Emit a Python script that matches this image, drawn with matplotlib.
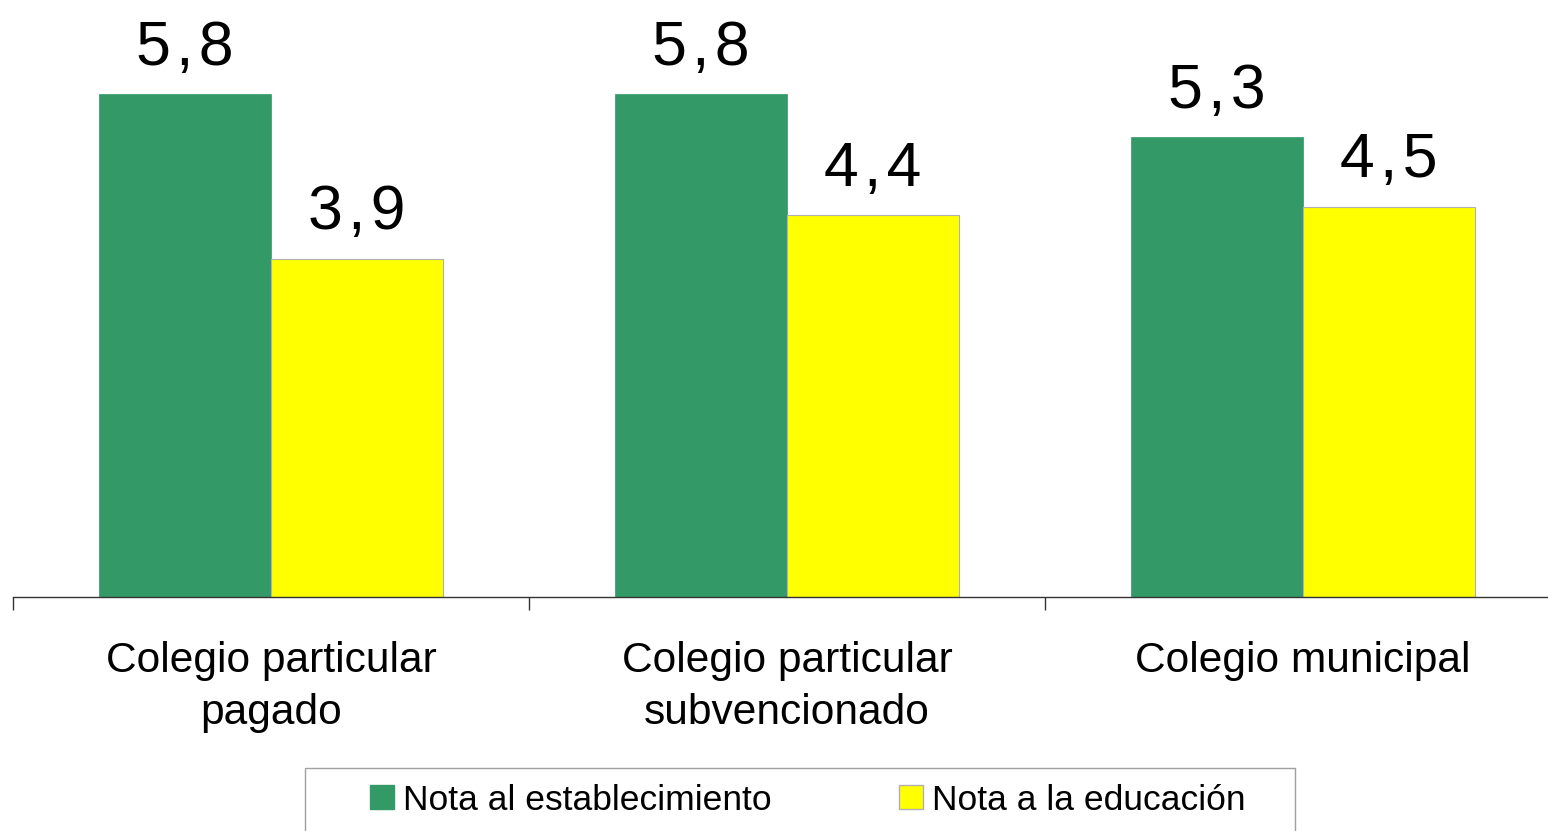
import matplotlib
matplotlib.use("Agg")
import matplotlib.pyplot as plt
import matplotlib.patches as mpatches
import numpy as np


CATEGORIES = ["Colegio particular\npagado", "Colegio particular\nsubvencionado", "Colegio municipal"]
NOTA_ESTABLECIMIENTO = [5.8, 5.8, 5.3]
NOTA_EDUCACION = [3.9, 4.4, 4.5]
SERIES_LABELS = ["Nota al establecimiento", "Nota a la educación"]
GREEN = "#339966"
YELLOW = "#FFFF00"

W, H = 1548, 831
plt.rcParams["font.family"] = ["Liberation Sans", "DejaVu Sans"]

fig = plt.figure(figsize=(W / 100, H / 100), dpi=100)
ax = fig.add_axes([13 / W, 234 / H, 1.0, 597 / H])

x = np.arange(len(CATEGORIES))
bw = 1 / 3
bars_a = ax.bar(x - bw / 2, NOTA_ESTABLECIMIENTO, width=bw, color=GREEN, edgecolor=GREEN, linewidth=0.5)
bars_b = ax.bar(x + bw / 2, NOTA_EDUCACION, width=bw, color=YELLOW, edgecolor="#b0b0b0", linewidth=0.8)

# spaced decimal comma like the original labels
for bars in (bars_a, bars_b):
    for b in bars:
        val = b.get_height()
        ax.annotate(f"{val:.1f}".replace(".", "\u200a,\u200a"),
                    (b.get_x() + b.get_width() / 2, val),
                    xytext=(0, 21), textcoords="offset points",
                    ha="center", va="baseline", fontsize=45)

ax.set_xlim(-0.5, 2.5)
ax.set_ylim(0, 6.88)
ax.set_yticks([])
for side in ("left", "top", "right"):
    ax.spines[side].set_visible(False)
ax.spines["bottom"].set_color("#333333")
ax.spines["bottom"].set_linewidth(1.0)

ax.set_xticks([-0.5, 0.5, 1.5, 2.5])
ax.set_xticklabels([])
ax.tick_params(axis="x", which="major", direction="out", length=9.4, width=1.0, color="#333333")
ax.set_xticks(x, minor=True)
ax.set_xticklabels(CATEGORIES, minor=True, fontsize=30.6, linespacing=1.37)
ax.tick_params(axis="x", which="minor", length=0, pad=32)

handles = [
    mpatches.Patch(facecolor=GREEN, edgecolor=GREEN, label=SERIES_LABELS[0]),
    mpatches.Patch(facecolor=YELLOW, edgecolor="#b0b0b0", label=SERIES_LABELS[1]),
]
fig.legend(handles=handles, loc="center left", bbox_to_anchor=(370 / W, 1 - 800 / H),
           ncol=2, frameon=False, fontsize=25.5, borderpad=0, borderaxespad=0,
           handlelength=0.68, handleheight=0.68, handletextpad=0.25, columnspacing=3.59)

frame = mpatches.Rectangle((305 / W, -0.05), 990 / W, 0.05 + (831 - 768) / H,
                           transform=fig.transFigure, facecolor="none",
                           edgecolor="#a0a0a0", linewidth=1.0)
fig.patches.append(frame)

fig.savefig("out.png", dpi=100)
